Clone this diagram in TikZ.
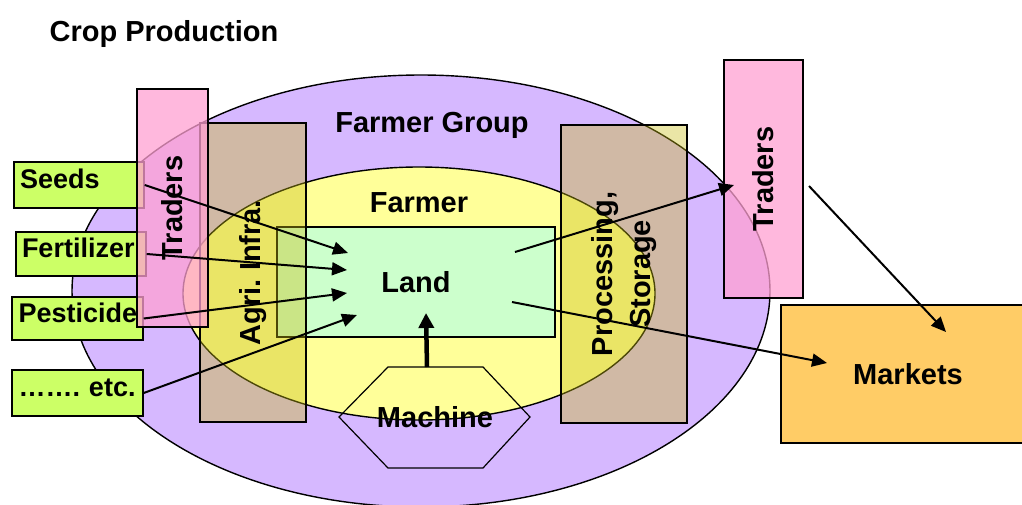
\documentclass[tikz,border=0pt]{standalone}
\usepackage{fontspec}
\setmainfont{Liberation Sans}
\usetikzlibrary{shapes.geometric,arrows.meta}
\definecolor{groupfill}{RGB}{214,184,255}
\definecolor{farmerfill}{RGB}{255,255,153}
\definecolor{landfill}{RGB}{204,255,204}
\definecolor{infrafill}{RGB}{200,188,20}
\definecolor{tradefill}{RGB}{255,160,210}
\definecolor{inputfill}{RGB}{204,255,102}
\definecolor{marketfill}{RGB}{255,204,102}
\newcommand\lblbig{\fontsize{29}{38}\selectfont\bfseries}
\newcommand\lblsmall{\fontsize{27}{32}\selectfont\bfseries}
\frenchspacing
\begin{document}
\begin{tikzpicture}[x=1pt,y=-1pt,
  outline/.style={draw=black,line width=1.4pt},
  area/.style={outline,ellipse,inner sep=0pt},
  panel/.style={outline,rectangle,inner sep=0pt,font=\lblbig},
  infra/.style={panel,fill=infrafill,fill opacity=0.38,text opacity=1},
  trader/.style={panel,fill=tradefill,fill opacity=0.75,text opacity=1},
  input/.style={outline,rectangle,fill=inputfill,font=\lblsmall,
    inner xsep=6pt,inner ysep=0pt,text width=118pt,align=left,
    text height=20pt,text depth=12.5pt},
  caption/.style={font=\lblbig,anchor=base,inner sep=0pt},
  flow/.style={line width=2pt,-{Triangle[length=15pt,width=13pt]}},
  push/.style={line width=4.5pt,-{Triangle[length=15pt,width=15pt]}}
]
\useasboundingbox (0,0) rectangle (1022,504);

% nested areas
\node[area,fill=groupfill,minimum width=698pt,minimum height=432pt] (group) at (421,291) {};
\node[area,fill=farmerfill,minimum width=472pt,minimum height=253pt] (farmer) at (419,293.5) {};
\node[panel,fill=landfill,minimum width=278pt,minimum height=110pt] (land) at (416,282) {Land};

% infrastructure columns
\node[infra,rotate=90,minimum width=299pt,minimum height=106pt] (infra) at (253,272.5) {Agri. Infra.};
\node[infra,rotate=90,align=center,minimum width=298pt,minimum height=126pt] (store) at (624,274) {Processing,\\Storage};

% inputs
\node[input,minimum width=130pt,minimum height=46pt] (seeds) at (79,185) {\mbox{Seeds}};
\node[input,minimum width=130pt,minimum height=44pt] (fert) at (81,254) {\mbox{Fertilizer}};
\node[input,minimum width=131pt,minimum height=43pt] (pest) at (77.5,318.5) {\mbox{Pesticide}};
\node[input,minimum width=131pt,minimum height=46pt] (etc) at (77.5,393) {\mbox{……. etc.}};

% traders and markets
\node[trader,rotate=90,minimum width=238pt,minimum height=71pt] (tradeL) at (172.5,208) {Traders};
\node[trader,rotate=90,minimum width=238pt,minimum height=79pt] (tradeR) at (763.5,179) {Traders};
\node[panel,fill=marketfill,minimum width=254pt,minimum height=138pt] (market) at (908,374) {Markets};

% captions
\node[caption] (title) at (164,41.5) {Crop Production};
\node[caption] (grouplbl) at (432,132) {Farmer Group};
\node[caption] (farmerlbl) at (419,212) {Farmer};

% machine hexagon
\coordinate (mtop) at (427,367);
\draw[outline,line width=1.2pt] (388,367) -- (483,367) -- (530,417) -- (483,468) -- (388,468) -- (339,417) -- cycle;
\node[caption] (machine) at (435,427) {Machine};

% arrow end points
\coordinate (seedin) at (348,253);
\coordinate (fertin) at (347,270);
\coordinate (pestin) at (347,293);
\coordinate (etcin) at (357,315);
\coordinate (machin) at (426,313);
\coordinate (landout1) at (515,252);
\coordinate (tradein) at (734,185);
\coordinate (landout2) at (512,302);
\coordinate (marketin1) at (827,363);
\coordinate (tradeout) at (809,186);
\coordinate (marketin2) at (946,332);

% flows
\draw[flow] (seeds.east) -- (seedin);
\draw[flow] (fert.east) -- (fertin);
\draw[flow] (pest.east) -- (pestin);
\draw[flow] (etc.east) -- (etcin);
\draw[push] (mtop) -- (machin);
\draw[flow] (landout1) -- (tradein);
\draw[flow] (landout2) -- (marketin1);
\draw[flow] (tradeout) -- (marketin2);
\end{tikzpicture}
\end{document}
